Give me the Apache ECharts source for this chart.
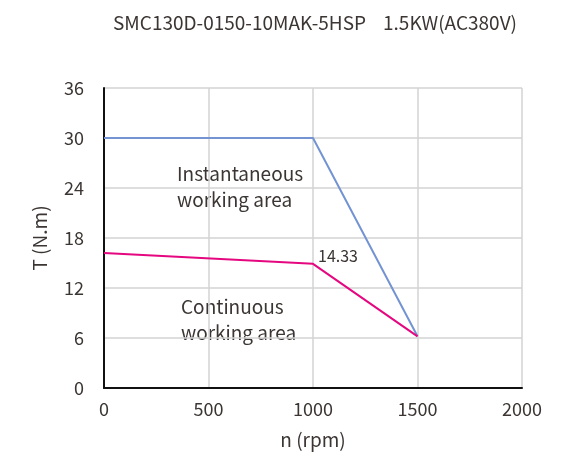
<!DOCTYPE html>
<html>
<head>
<meta charset="utf-8">
<script src="https://cdn.jsdelivr.net/npm/echarts@6/dist/echarts.min.js"></script>
<style>
    html, body { margin: 0; padding: 0; background: #fff; }
    #chart { width: 563px; height: 459px; }
</style>
</head>
<body>
<div id="chart"></div>
<script>
// 转速 rpm
var speed = [0, 1000, 1500];
// 瞬时转矩 N.m
var peak_torque = [30, 30, 6.2];
// 连续转矩 N.m
var cont_torque = [16.2, 14.9, 6.2];
// 点标注
var cont_labels = ['', '14.33', ''];

var title_text = 'SMC130D-0150-10MAK-5HSP    1.5KW(AC380V)';
var font = '"Noto Sans CJK SC", "Noto Sans", sans-serif';
var text_color = '#3b3533';

function toPairs(xs, ys){
    var out = [];
    for(var i = 0; i < xs.length; i++){
        out.push([xs[i], ys[i]]);
    }
    return out;
}

var option = {
    animation: false,
    title: {
        text: title_text,
        left: 310,
        textAlign: 'center',
        top: 8,
        textStyle: { fontFamily: font, fontSize: 19, fontWeight: 'normal', color: text_color }
    },
    grid: { left: 104, right: 41, top: 88, bottom: 71 },
    xAxis: {
        type: 'value',
        min: 0, max: 2000, interval: 500,
        name: 'n (rpm)',
        nameLocation: 'middle',
        nameGap: 42,
        nameTextStyle: { fontFamily: font, fontSize: 19, color: text_color },
        axisLine: { lineStyle: { color: '#111', width: 2 } },
        axisTick: { show: false },
        axisLabel: {
            fontFamily: font, fontSize: 18, color: text_color, margin: 12,
            formatter: function(v){ return String(v); }
        },
        splitLine: { show: true, lineStyle: { color: '#d3d3d3', width: 1.5 } }
    },
    yAxis: {
        type: 'value',
        min: 0, max: 36, interval: 6,
        name: 'T (N.m)',
        nameLocation: 'middle',
        nameGap: 55,
        nameTextStyle: { fontFamily: font, fontSize: 19, color: text_color },
        axisLine: { show: true, lineStyle: { color: '#111', width: 2 } },
        axisTick: { show: false },
        axisLabel: { fontFamily: font, fontSize: 18, color: text_color, margin: 20 },
        splitLine: { show: true, lineStyle: { color: '#d3d3d3', width: 1.5 } }
    },
    graphic: [
        { type: 'text', left: 177, top: 161, style: { text: 'Instantaneous\nworking area', font: '19px ' + font, fill: text_color, lineHeight: 26, textAlign: 'left' } },
        { type: 'text', left: 181, top: 294, style: { text: 'Continuous\nworking area', font: '19px ' + font, fill: text_color, lineHeight: 26, textAlign: 'left' } }
    ],
    series: [
        {
            name: 'peak',
            type: 'line',
            data: toPairs(speed, peak_torque),
            showSymbol: false,
            lineStyle: { color: '#7393d3', width: 2 }
        },
        {
            name: 'cont',
            type: 'line',
            data: toPairs(speed, cont_torque),
            showSymbol: true,
            symbolSize: 0,
            lineStyle: { color: '#e5077f', width: 2 },
            label: {
                show: true,
                position: 'right',
                distance: 5,
                offset: [0, -8],
                fontFamily: font,
                fontSize: 16,
                color: text_color,
                formatter: function(p){ return cont_labels[p.dataIndex]; }
            }
        }
    ]
};
var chart = echarts.init(document.getElementById('chart'));
chart.setOption(option);
</script>
</body>
</html>
